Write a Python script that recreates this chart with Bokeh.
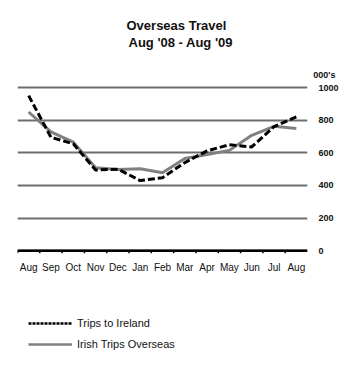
import numpy as np
from bokeh.plotting import figure
from bokeh.models import (Range1d, FixedTicker, LinearAxis, Span, Title, Legend, LegendItem)
from bokeh.core.properties import value
from bokeh.embed import file_html
from bokeh.resources import INLINE

months = ["Aug", "Sep", "Oct", "Nov", "Dec", "Jan", "Feb", "Mar", "Apr", "May", "Jun", "Jul", "Aug"]
trips_to_ireland = [950, 695, 655, 495, 500, 430, 448, 540, 612, 650, 636, 760, 820]
irish_trips_overseas = [850, 728, 665, 508, 498, 503, 478, 565, 590, 615, 707, 762, 749]
y_ticks = [0, 200, 400, 600, 800, 1000]
title_lines = ["Overseas Travel", "Aug '08 - Aug '09"]
unit_label = "000's"
series_names = ["Trips to Ireland", "Irish Trips Overseas"]

FONT = "Liberation Sans"
n = len(months)
xc = np.arange(n) + 0.5
xb = np.arange(n).astype(float)

p = figure(width=352, height=370, output_backend="svg", toolbar_location=None,
           x_range=Range1d(0, n), y_range=Range1d(-733, 1049),
           x_axis_location=None, y_axis_location=None,
           min_border_left=17, min_border_right=45, min_border_top=79, min_border_bottom=0)
p.outline_line_color = None
p.background_fill_color = "white"
p.border_fill_color = "white"

# titles: p.title is outermost; later-added titles go farther from the frame
p.title.text = title_lines[0]
p.title.align = "left"
p.title.offset = 109
p.title.text_font = FONT
p.title.text_font_size = "13px"
p.title.text_font_style = "bold"
p.title.text_color = "#111111"
p.title.standoff = 0
p.add_layout(Title(text=unit_label, align="right", offset=-28, text_font=FONT,
                   text_font_size="9px", text_font_style="bold", text_color="#111111",
                   standoff=0), "above")
p.add_layout(Title(text=" ", align="left", text_font=FONT, text_font_size="14px",
                   standoff=0), "above")
p.add_layout(Title(text=title_lines[1], align="left", offset=111, text_font=FONT,
                   text_font_size="13px", text_font_style="bold", text_color="#111111",
                   standoff=0), "above")

# right value axis
yax = LinearAxis(ticker=FixedTicker(ticks=y_ticks))
yax.axis_line_color = None
yax.major_tick_in = 0
yax.major_tick_out = 0
yax.minor_tick_line_color = None
yax.major_label_standoff = 11
yax.major_label_text_font = FONT
yax.major_label_text_font_size = "9px"
yax.major_label_text_font_style = "bold"
yax.major_label_text_color = "#111111"
p.add_layout(yax, "right")

p.xgrid.visible = False
p.ygrid.grid_line_color = "#6e6e6e"
p.ygrid.grid_line_width = 2
p.ygrid.ticker = FixedTicker(ticks=y_ticks)

# category axis: baseline, ticks at category boundaries, month labels at centres
p.segment(x0=xb, y0=[0] * n, x1=xb, y1=[-15] * n, line_color="black", line_width=1.5)
p.add_layout(Span(location=0, dimension="width", line_color="black", line_width=2.5))
p.text(x=xc, y=[-102] * n, text=months, text_align="center", text_baseline="middle",
       text_font=value(FONT), text_font_size="10px", text_color="#111111")

r2 = p.line(xc, irish_trips_overseas, line_color="#808080", line_width=3)
r1 = p.line(xc, trips_to_ireland, line_color="black", line_width=3, line_dash="7 3")

# legend samples (not drawn in the plot area)
l1 = p.line([np.nan], [np.nan], line_color="black", line_width=2.5, line_dash="3 1")
l2 = p.line([np.nan], [np.nan], line_color="#808080", line_width=2.5)

legend = Legend(items=[LegendItem(label=series_names[0], renderers=[l1]),
                       LegendItem(label=series_names[1], renderers=[l2])],
                location=(11, 18), orientation="vertical",
                glyph_width=44, glyph_height=16, label_height=16, label_standoff=5,
                spacing=5, padding=0, margin=0,
                border_line_color=None, background_fill_alpha=0,
                label_text_font=FONT, label_text_font_size="11px", label_text_color="#111111")
p.add_layout(legend)

open("out.html", "w").write(file_html(p, INLINE))
